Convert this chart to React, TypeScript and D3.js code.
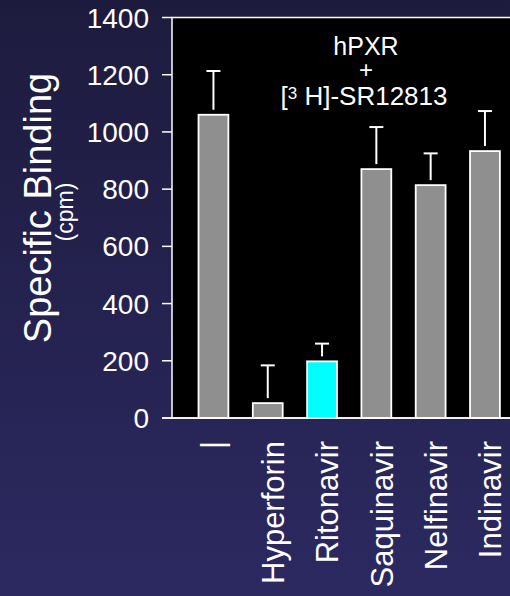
import React from "react";
import * as d3 from "d3";

const categories = ["|", "Hyperforin", "Ritonavir", "Saquinavir", "Nelfinavir", "Indinavir"];
const values = [1060, 52, 198, 870, 814, 933];
const errors = [153, 132, 62, 147, 111, 140];
const highlight = [false, false, true, false, false, false];
const yTicks = [0, 200, 400, 600, 800, 1000, 1200, 1400];

const W = 510;
const H = 596;

export default function App() {
  const y = d3.scaleLinear().domain([0, 1400]).range([418, 17.5]);
  const x = d3
    .scaleBand<string>()
    .domain(categories)
    .range([186.3, 512.1])
    .paddingInner(0.45)
    .paddingOuter(0.225);
  const bw = x.bandwidth();
  const font = "Liberation Sans, Arial, Helvetica, sans-serif";

  return (
    <svg
      width={W}
      height={H}
      style={{ position: "absolute", left: 0, top: 0, display: "block" }}
      fontFamily={font}
    >
      <defs>
        <linearGradient id="bg" x1="0" y1="0" x2="0" y2="1">
          <stop offset="0" stopColor="#1d1b3d" />
          <stop offset="1" stopColor="#2c2961" />
        </linearGradient>
      </defs>
      <rect x={0} y={0} width={W} height={H} fill="url(#bg)" />
      {/* plot frame */}
      <rect x={172} y={17.5} width={400} height={400.5} fill="#000" stroke="#fff" strokeWidth={1.5} />

      {/* y axis ticks */}
      {yTicks.map((t) => (
        <g key={t}>
          <line x1={162} x2={172} y1={y(t)} y2={y(t)} stroke="#fff" strokeWidth={1.5} />
          <text x={149} y={y(t)} dy="0.36em" textAnchor="end" fill="#fff" fontSize={28}>
            {t}
          </text>
        </g>
      ))}

      {/* bars */}
      {categories.map((c, i) => {
        const cx = (x(c) as number) + bw / 2;
        const top = y(values[i]);
        const eTop = y(values[i] + errors[i]);
        return (
          <g key={c}>
            <line x1={cx} x2={cx} y1={top - 5} y2={eTop} stroke="#fff" strokeWidth={2} />
            <line x1={cx - 7} x2={cx + 7} y1={eTop} y2={eTop} stroke="#fff" strokeWidth={2} />
            <rect
              x={x(c) as number}
              y={top}
              width={bw}
              height={y(0) - top}
              fill={highlight[i] ? "#00ffff" : "#8f8f8f"}
              stroke="#fff"
              strokeWidth={1.8}
            />
          </g>
        );
      })}
      {/* bottom axis line */}
      <line x1={162} x2={W} y1={418} y2={418} stroke="#fff" strokeWidth={1.5} />

      {/* x labels */}
      {categories.map((c, i) => {
        const cx = (x(c) as number) + bw / 2 + (i === 0 ? -2 : 5);
        return (
          <text
            key={c}
            transform={`translate(${cx},441) rotate(-90)`}
            textAnchor="end"
            dy="0.36em"
            fill="#fff"
            fontSize={31}
          >
            {c}
          </text>
        );
      })}

      {/* annotation */}
      <text x={366} y={55} textAnchor="middle" fill="#fff" fontSize={25}>
        hPXR
      </text>
      <text x={366} y={78} textAnchor="middle" fill="#fff" fontSize={24}>
        +
      </text>
      <text x={364} y={105} textAnchor="middle" fill="#fff" fontSize={26}>
        [<tspan fontSize={17} dy={-6}>3</tspan>
        <tspan dy={6}> H]-SR12813</tspan>
      </text>

      {/* y title */}
      <text transform="translate(51,208) rotate(-90)" textAnchor="middle" fill="#fff" fontSize={38}>
        Specific Binding
      </text>
      <text transform="translate(73,212) rotate(-90)" textAnchor="middle" fill="#fff" fontSize={23}>
        (cpm)
      </text>
    </svg>
  );
}
